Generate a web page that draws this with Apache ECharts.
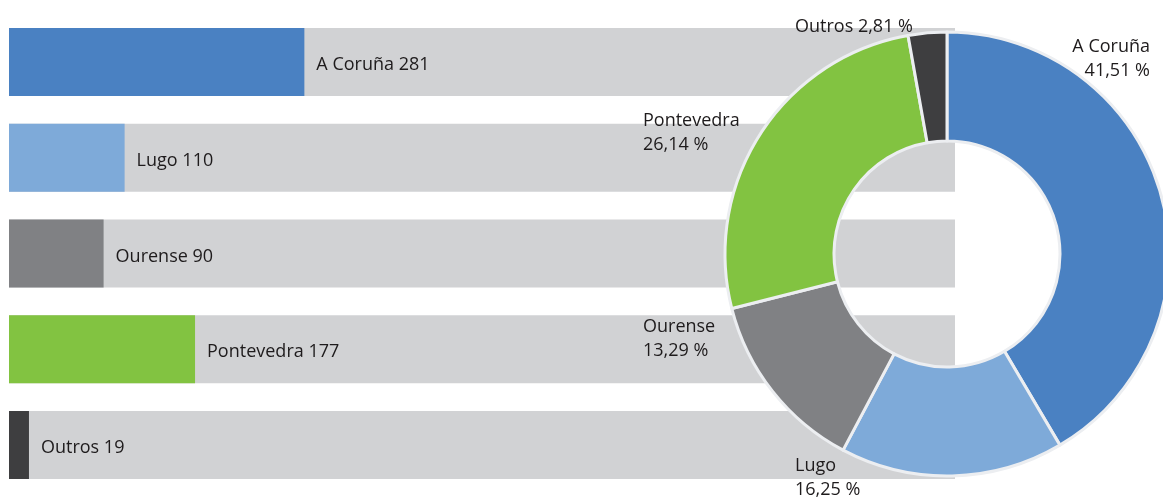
<!DOCTYPE html>
<html>
<head>
<meta charset="utf-8">
<script src="https://cdn.jsdelivr.net/npm/echarts@6/dist/echarts.min.js"></script>
<style>
  html, body { margin: 0; padding: 0; background: #fff; }
  #chart { width: 1163px; height: 500px; }
</style>
</head>
<body>
<div id="chart"></div>
<script>
// datos por provincia
var categories = ['A Coruña', 'Lugo', 'Ourense', 'Pontevedra', 'Outros'];
var values = [281, 110, 90, 177, 19];
var colors = ['#4a81c2', '#7eaad9', '#808184', '#82c341', '#3e3e40'];

var textColor = '#1e1b1c';
var font = 'Open Sans';

// posición das etiquetas do anel (x, y, aliñación)
var pieLabelPos = [
  { x: 1150, y: 59, align: 'right' },
  { x: 795, y: 478, align: 'left' },
  { x: 643, y: 339, align: 'left' },
  { x: 643, y: 133, align: 'left' },
  { x: 795, y: 27, align: 'left' }
];

var chart = echarts.init(document.getElementById('chart'), null, { renderer: 'canvas' });

var barData = values.map(function (v, i) {
  return { value: v, itemStyle: { color: colors[i] } };
});
var pieData = values.map(function (v, i) {
  return { name: categories[i], value: v, itemStyle: { color: colors[i] } };
});

chart.setOption({
  animation: false,
  grid: { left: 9, top: 14, width: 946, height: 479 },
  xAxis: { type: 'value', min: 0, max: 900, show: false },
  yAxis: {
    type: 'category',
    data: categories,
    inverse: true,
    show: false
  },
  series: [
    {
      type: 'bar',
      data: barData,
      barWidth: 68,
      showBackground: true,
      backgroundStyle: { color: '#d1d2d4' },
      label: {
        show: true,
        position: 'right',
        distance: 12,
        offset: [0, 3],
        color: textColor,
        fontFamily: font,
        fontSize: 18,
        formatter: '{b} {c}'
      }
    },
    {
      type: 'pie',
      center: [947, 254],
      radius: [113, 222],
      startAngle: 90,
      clockwise: true,
      avoidLabelOverlap: false,
      data: pieData,
      itemStyle: { borderColor: '#eceef1', borderWidth: 3 },
      label: {
        show: true,
        position: 'outside',
        color: textColor,
        fontFamily: font,
        fontSize: 18,
        lineHeight: 24,
        formatter: function (p) {
          var pct = p.percent.toFixed(2).replace('.', ',') + ' %';
          // Outros vai nunha soa liña
          return p.dataIndex === 4 ? p.name + ' ' + pct : p.name + '\n' + pct;
        }
      },
      labelLine: { show: false },
      labelLayout: function (params) {
        var pos = pieLabelPos[params.dataIndex];
        return { x: pos.x, y: pos.y, align: pos.align, verticalAlign: 'middle' };
      }
    }
  ]
});
</script>
</body>
</html>
